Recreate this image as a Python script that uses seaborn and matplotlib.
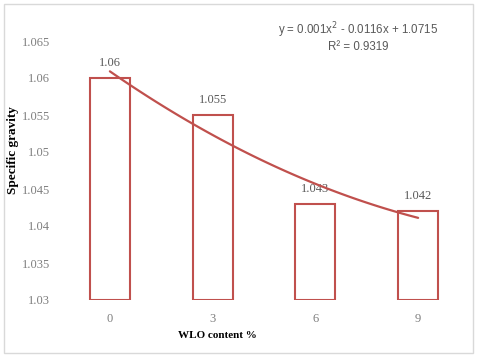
import numpy as np
import pandas as pd
import matplotlib
matplotlib.use("Agg")
import matplotlib.pyplot as plt
import seaborn as sns
from matplotlib.patches import Rectangle

categories = ["0", "3", "6", "9"]
values = [1.06, 1.055, 1.043, 1.042]
yticks = [1.03, 1.035, 1.04, 1.045, 1.05, 1.055, 1.06, 1.065]
ytick_labels = ["1.03", "1.035", "1.04", "1.045", "1.05", "1.055", "1.06", "1.065"]
equation = "y = 0.001x$^2$ - 0.0116x + 1.0715"
r2_text = "R² = 0.9319"

sns.set_style("white")
red = "#C0504D"

fig = plt.figure(figsize=(4.8, 3.6), dpi=100)
W, H = 480, 360
# axes: x 58.5..469.5, y 41..300 (pixel)
ax = fig.add_axes([58.5 / W, 1 - 300 / H, (469.5 - 58.5) / W, (300 - 41) / H])

df = pd.DataFrame({"cat": categories, "val": [v - 1.03 for v in values]})
sns.barplot(data=df, x="cat", y="val", ax=ax, width=0.39, color="white",
            edgecolor=red, linewidth=1.5, bottom=1.03)

ax.set_ylim(1.03, 1.065)
ax.set_xlim(-0.5, 3.5)
ax.set_yticks(yticks)
ax.set_yticklabels(ytick_labels)
for s in ax.spines.values():
    s.set_visible(False)
ax.tick_params(axis="both", length=0, labelsize=9, labelcolor="#7F7F7F", pad=6)
ax.tick_params(axis="x", pad=9)
for lab in ax.get_xticklabels() + ax.get_yticklabels():
    lab.set_family("Liberation Serif")
ax.set_xlabel("")
ax.set_ylabel("")

# data labels
for i, v in enumerate(values):
    ax.annotate(f"{v:g}", (i, v), xytext=(0, 15 * 0.72), textcoords="offset points",
                ha="center", va="center", fontsize=9, color="#595959",
                family="Liberation Serif", annotation_clip=False)

# polynomial trendline (Excel uses x = 1..n)
xs = np.arange(1, len(values) + 1)
coef = np.polyfit(xs, values, 2)
xx = np.linspace(1, len(values), 100)
ax.plot(xx - 1, np.polyval(coef, xx), color=red, lw=1.6, clip_on=False, zorder=5)

fig.text(358 / W, 1 - 30 / H, equation, ha="center", va="center", fontsize=8.3,
         color="#595959", family="Liberation Sans")
fig.text(358 / W, 1 - 47 / H, r2_text, ha="center", va="center", fontsize=8.3,
         color="#595959", family="Liberation Sans")

fig.text(13 / W, 1 - 150 / H, "Specific gravity", rotation=90, ha="center", va="center",
         fontsize=9.5, fontweight="bold", family="Liberation Serif", color="black")
fig.text(217 / W, 1 - 336 / H, "WLO content %", ha="center", va="center",
         fontsize=8, fontweight="bold", family="Liberation Serif", color="black")

fig.patches.append(Rectangle((4 / W, 1 - 353 / H), 469 / W, 349 / H, transform=fig.transFigure,
                             fill=False, edgecolor="#D9D9D9", lw=1))

fig.savefig("out.png", dpi=100)
